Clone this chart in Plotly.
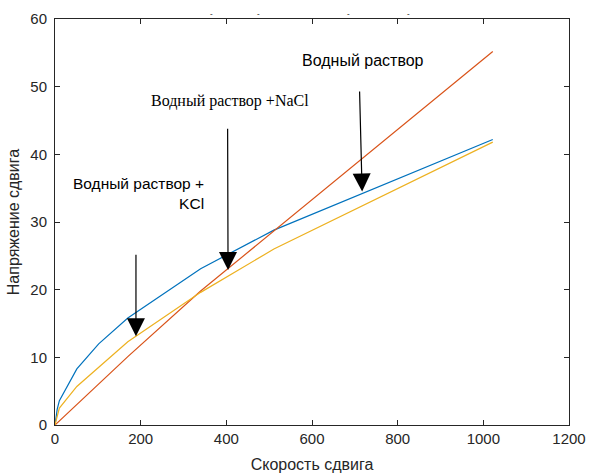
import plotly.graph_objects as go

# Shear rate (x) and shear stress (y) data
rate = [0, 5.1, 10.2, 51, 102, 170, 340, 511, 1022]
water = [0, 0.3, 0.6, 3.0, 6.1, 10.1, 19.8, 28.7, 55.2]
water_kcl = [0, 2.3, 3.6, 8.3, 12.0, 15.8, 23.1, 28.8, 42.2]
water_nacl = [0, 1.5, 2.5, 5.7, 8.5, 12.3, 19.6, 26.0, 41.8]

x_ticks = [0, 200, 400, 600, 800, 1000, 1200]
y_ticks = [0, 10, 20, 30, 40, 50, 60]

axis_color = "#262626"
font_sans = "Liberation Sans, Arial, sans-serif"
font_serif = "Liberation Serif, Times New Roman, serif"

fig = go.Figure()
fig.add_trace(go.Scatter(x=rate, y=water_kcl, mode="lines",
                         line=dict(color="#0072BD", width=1.2), showlegend=False))
fig.add_trace(go.Scatter(x=rate, y=water, mode="lines",
                         line=dict(color="#D95319", width=1.2), showlegend=False))
fig.add_trace(go.Scatter(x=rate, y=water_nacl, mode="lines",
                         line=dict(color="#EDB120", width=1.2), showlegend=False))

annotations = []
# text labels
annotations.append(dict(x=718, y=53.8, xref="x", yref="y", text="Водный раствор",
                        showarrow=False, font=dict(family=font_sans, size=16, color="black")))
annotations.append(dict(x=408, y=47.9, xref="x", yref="y", text="Водный раствор +NaCl",
                        showarrow=False, font=dict(family=font_serif, size=16, color="black")))
annotations.append(dict(x=352, y=34.2, xref="x", yref="y", text="Водный раствор +<br>KCl",
                        showarrow=False, xanchor="right", align="right",
                        font=dict(family=font_sans, size=15.5, color="black")))

# arrows (tail -> tip)
arrows = [((189, 25.4), (189, 13.1)),
          ((403, 44.0), (404, 22.9)),
          ((711, 49.5), (717, 34.5))]
for (tx, ty), (hx, hy) in arrows:
    annotations.append(dict(x=hx, y=hy, ax=tx, ay=ty, xref="x", yref="y",
                            axref="x", ayref="y", text="", showarrow=True,
                            arrowhead=2, arrowsize=3, arrowwidth=1.2,
                            arrowcolor="black", standoff=0, startstandoff=0))

# small dash fragments above the plot
for px in [211, 258, 348, 408]:
    annotations.append(dict(x=(px - 55) / 514 * 1200, y=1 + (19 - 13.3) / 406,
                            xref="x", yref="paper", yanchor="middle", text="-",
                            showarrow=False,
                            font=dict(family=font_sans, size=8, color="black")))

fig.update_layout(
    width=589, height=473,
    margin=dict(l=55, r=20, t=19, b=48, autoexpand=False),
    plot_bgcolor="white", paper_bgcolor="white",
    annotations=annotations,
    font=dict(family=font_sans, size=15, color=axis_color),
)

fig.update_xaxes(range=[0, 1200], tickvals=x_ticks, ticks="inside", ticklen=5,
                 tickcolor=axis_color, showline=True, linecolor=axis_color, linewidth=1,
                 mirror="ticks", showgrid=False, zeroline=False, automargin=False,
                 tickfont=dict(size=15, color=axis_color),
                 title=dict(text="Скорость сдвига", font=dict(size=16, color=axis_color), standoff=12))
fig.update_yaxes(range=[0, 60], tickvals=y_ticks, ticks="inside", ticklen=5,
                 tickcolor=axis_color, showline=True, linecolor=axis_color, linewidth=1,
                 mirror="ticks", showgrid=False, zeroline=False, automargin=False,
                 tickfont=dict(size=15, color=axis_color), ticklabelstandoff=4,
                 title=dict(text="Напряжение сдвига", font=dict(size=16, color=axis_color), standoff=6))

fig.write_html("out.html")
